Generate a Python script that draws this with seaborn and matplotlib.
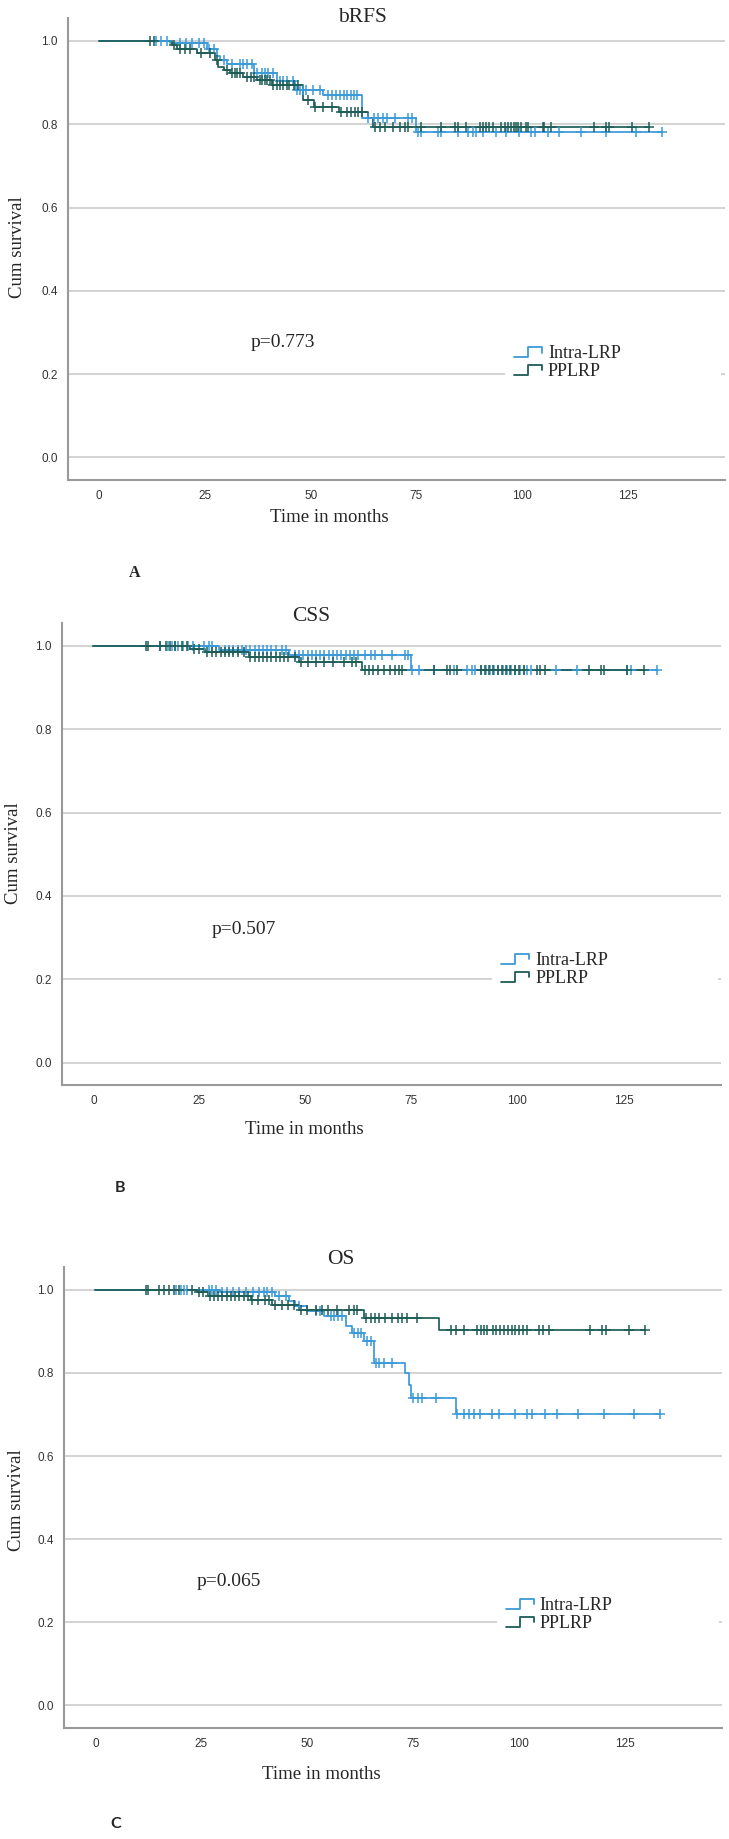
import numpy as np
import pandas as pd
import seaborn as sns
import matplotlib.pyplot as plt
from matplotlib.lines import Line2D
from matplotlib.legend_handler import HandlerBase


# -----------------------------
# DATA
# -----------------------------
# step times (months) and survival after each step, plus censoring times
brfs_intra_t = [0, 16.8, 25.5, 27.8, 28.6, 30.2, 36.5, 42.0, 46.3, 53.0, 62.1, 75.0]
brfs_intra_s = [1.0, 0.994, 0.980, 0.965, 0.955, 0.945, 0.922, 0.905, 0.882, 0.870, 0.814, 0.782]
brfs_intra_c = [13.5, 14.5, 16.0, 19.2, 20.5, 22.0, 23.5, 24.7, 25.9, 27.1, 29.5, 31.5, 33.3,
                34.0, 35.0, 36.1, 37.3, 38.5, 39.3, 40.0, 41.2, 42.8, 43.5, 44.5, 45.9, 46.8,
                47.5, 48.2, 49.0, 50.5, 52.2, 54.0, 55.0, 56.0, 57.0, 57.8, 58.5, 59.5, 60.2,
                60.9, 63.6, 65.0, 66.0, 67.0, 68.0, 70.0, 73.0, 74.0, 75.4, 76.2, 80.1, 80.9,
                84.9, 87.2, 88.4, 89.2, 90.8, 93.9, 96.3, 99.4, 102.2, 103.0, 106.1, 108.8,
                114.0, 119.9, 127.0, 133.1]

brfs_pplrp_t = [0, 17.2, 18.5, 23.2, 27.5, 28.0, 29.5, 31.0, 34.1, 37.3, 40.8, 48.3, 50.7,
                56.6, 63.6, 64.8]
brfs_pplrp_s = [1.0, 0.990, 0.980, 0.970, 0.954, 0.938, 0.930, 0.922, 0.914, 0.906, 0.894,
                0.858, 0.842, 0.830, 0.814, 0.794]
brfs_pplrp_c = [12.1, 13.0, 17.8, 19.0, 20.4, 21.5, 24.0, 26.3, 27.8, 30.2, 31.4, 32.0, 32.6,
                33.3, 35.0, 35.8, 36.5, 38.0, 38.6, 39.2, 39.8, 40.4, 41.2, 42.0, 42.8, 43.5,
                44.3, 45.0, 46.0, 47.0, 49.3, 51.0, 53.0, 55.0, 57.3, 58.5, 59.5, 60.5, 61.3,
                62.1, 65.2, 66.4, 67.5, 69.5, 71.1, 72.3, 73.1, 76.2, 80.9, 84.1, 84.9, 86.8,
                90.0, 90.8, 91.5, 92.3, 93.1, 95.1, 95.9, 96.6, 97.4, 98.2, 98.6, 99.0, 99.8,
                100.9, 101.3, 104.9, 105.3, 106.8, 117.1, 119.9, 120.6, 126.1, 130.1]

css_intra_t = [0, 29.6, 46.1, 74.9]
css_intra_s = [1.0, 0.990, 0.978, 0.942]
css_intra_c = [15.8, 17.5, 18.5, 19.3, 20.0, 21.2, 22.4, 23.6, 26.0, 27.2, 28.0, 31.0, 32.0,
               33.0, 34.0, 35.0, 36.0, 37.0, 38.0, 39.0, 40.0, 41.0, 42.0, 43.0, 44.5, 45.5,
               47.5, 48.5, 49.5, 50.5, 51.5, 52.5, 53.5, 54.5, 55.5, 56.5, 57.5, 58.5, 59.5,
               60.5, 61.5, 62.5, 64.0, 65.5, 66.5, 68.0, 70.5, 73.6, 74.3, 75.2, 76.7, 80.3,
               85.0, 88.1, 89.3, 90.1, 91.3, 92.5, 93.5, 94.5, 95.5, 96.5, 97.5, 98.5, 99.5,
               100.5, 101.5, 102.3, 103.1, 109.0, 114.1, 125.9, 126.7, 132.9]

css_pplrp_t = [0, 22.9, 26.4, 36.6, 48.4, 63.4]
css_pplrp_s = [1.0, 0.993, 0.985, 0.974, 0.962, 0.942]
css_pplrp_c = [12.3, 12.8, 15.8, 17.2, 18.1, 19.3, 20.9, 22.1, 23.7, 24.8, 26.8, 28.0, 29.0,
               30.0, 31.0, 32.0, 33.0, 34.0, 35.5, 37.0, 38.0, 39.0, 40.0, 41.0, 42.0, 43.0,
               44.0, 45.0, 46.0, 47.5, 49.0, 50.5, 52.5, 54.5, 56.5, 59.0, 61.0, 62.0, 64.0,
               65.0, 66.0, 67.0, 68.5, 70.0, 71.2, 72.0, 72.8, 80.3, 83.4, 84.2, 85.8, 91.3,
               92.3, 93.3, 94.3, 95.3, 96.3, 97.3, 98.3, 99.3, 100.3, 101.5, 104.6, 105.4,
               106.6, 116.8, 119.6, 120.4, 125.9, 129.8]

os_intra_t = [0, 29.5, 42.5, 45.7, 47.2, 50.0, 54.0, 59.1, 60.7, 63.4, 65.8, 73.2, 74.0,
              74.5, 85.2]
os_intra_s = [1.0, 0.994, 0.984, 0.972, 0.960, 0.948, 0.936, 0.912, 0.896, 0.876, 0.824,
              0.800, 0.770, 0.740, 0.702]
os_intra_c = [19.0, 20.2, 21.0, 21.7, 26.9, 27.6, 28.4, 30.0, 31.0, 32.4, 33.9, 35.5, 37.1,
              38.7, 39.8, 40.6, 41.8, 43.4, 45.0, 48.0, 52.0, 53.0, 55.6, 56.4, 57.2, 58.3,
              61.1, 61.9, 62.7, 64.2, 65.0, 66.2, 67.0, 68.2, 70.1, 75.0, 76.1, 77.2, 80.5,
              85.5, 87.1, 88.2, 89.3, 90.9, 93.7, 95.3, 99.2, 101.9, 103.0, 106.3, 109.1,
              114.0, 120.1, 127.2, 133.3]

os_pplrp_t = [0, 24.1, 26.5, 36.7, 41.8, 48.1, 63.5, 81.2]
os_pplrp_s = [1.0, 0.994, 0.984, 0.976, 0.964, 0.952, 0.932, 0.902]
os_pplrp_c = [11.9, 12.5, 15.0, 16.2, 17.4, 18.6, 19.8, 22.9, 24.5, 25.5, 27.0, 28.0, 29.0,
              30.0, 31.0, 32.0, 33.0, 34.0, 35.0, 36.0, 37.0, 38.5, 40.0, 41.0, 42.5, 44.0,
              45.5, 47.0, 48.5, 50.0, 52.0, 53.5, 55.0, 57.0, 59.9, 61.0, 61.8, 64.0, 65.0,
              66.0, 67.0, 68.5, 70.0, 71.5, 72.5, 73.5, 76.0, 83.9, 85.1, 87.1, 90.2, 91.0,
              91.8, 92.6, 93.8, 94.7, 95.6, 96.5, 97.4, 98.3, 99.2, 100.1, 101.0, 102.0,
              104.8, 105.6, 107.1, 116.9, 119.7, 120.5, 126.0, 129.9]

groups = ["Intra-LRP", "PPLRP"]
titles = ["bRFS", "CSS", "OS"]
p_texts = ["p=0.773", "p=0.507", "p=0.065"]
panel_letters = ["A", "B", "C"]
x_ticks = [0, 25, 50, 75, 100, 125]
y_ticks = [0.0, 0.2, 0.4, 0.6, 0.8, 1.0]

BLUE = "#3b9ad9"
GREEN = "#1e5d57"


# -----------------------------
# HELPERS
# -----------------------------
def km_frame(t, s, cens):
    end = max(max(cens), t[-1])
    return pd.DataFrame({"time": list(t) + [end], "surv": list(s) + [s[-1]]})


def cens_frame(t, s, cens):
    idx = np.searchsorted(t, cens, side="right") - 1
    return pd.DataFrame({"time": cens, "surv": np.asarray(s)[idx]})


class StepHandler(HandlerBase):
    # SPSS style step glyph for the legend
    def create_artists(self, legend, orig_handle, xdescent, ydescent,
                       width, height, fontsize, trans):
        xs = -xdescent + width * np.array([0.0, 0.5, 0.5, 1.0, 1.0])
        ys = -ydescent + height * np.array([0.1, 0.1, 0.85, 0.85, 0.45])
        ln = Line2D(xs, ys, color=orig_handle.get_color(), lw=1.3)
        ln.set_transform(trans)
        return [ln]


# -----------------------------
# LAYOUT
# -----------------------------
sns.set_style("white")
plt.rcParams["font.family"] = ["Liberation Serif", "DejaVu Serif"]

fig = plt.figure(figsize=(7.29, 18.39), dpi=100)

panels = [
    dict(rect=[0.0926, 0.7390, 0.9019, 0.2512],
         curves=[(brfs_intra_t, brfs_intra_s, brfs_intra_c),
                 (brfs_pplrp_t, brfs_pplrp_s, brfs_pplrp_c)],
         title_xy=(0.448, 1.002), ylab_xy=(-0.0757, 0.504), xlab_xy=(0.398, -0.082),
         p_xy=(35.9, 0.275), leg=(0.6654, 0.254, 0.3285), letter_xy=(0.185, 0.6884),
         letter_font="Liberation Serif"),
    dict(rect=[0.0844, 0.4100, 0.9047, 0.2512],
         curves=[(css_intra_t, css_intra_s, css_intra_c),
                 (css_pplrp_t, css_pplrp_s, css_pplrp_c)],
         title_xy=(0.379, 1.015), ylab_xy=(-0.0735, 0.502), xlab_xy=(0.368, -0.097),
         p_xy=(28.0, 0.319), leg=(0.6528, 0.250, 0.3427), letter_xy=(0.1646, 0.354),
         letter_font="Lato"),
    dict(rect=[0.0874, 0.0604, 0.9030, 0.2507],
         curves=[(os_intra_t, os_intra_s, os_intra_c),
                 (os_pplrp_t, os_pplrp_s, os_pplrp_c)],
         title_xy=(0.421, 1.015), ylab_xy=(-0.072, 0.495), xlab_xy=(0.391, -0.101),
         p_xy=(23.9, 0.298), leg=(0.658, 0.246, 0.337), letter_xy=(0.159, 0.008),
         letter_font="Lato"),
]

for i, cfg in enumerate(panels):
    ax = fig.add_axes(cfg["rect"])

    # curves + censor marks
    for (t, s, c), color, name in zip(cfg["curves"], [BLUE, GREEN], groups):
        sns.lineplot(data=km_frame(t, s, c), x="time", y="surv", drawstyle="steps-post",
                     color=color, lw=1.25, estimator=None, sort=False, ax=ax)
        sns.scatterplot(data=cens_frame(t, s, c), x="time", y="surv", marker="+", s=48,
                        color=color, linewidth=1.1, ax=ax, legend=False, zorder=3)

    ax.set_xlim(-7.5, 148)
    ax.set_ylim(-0.054, 1.055)
    ax.set_xticks(x_ticks)
    ax.set_yticks(y_ticks)
    ax.set_yticklabels([f"{v:.1f}" for v in y_ticks])
    ax.grid(axis="y", color="#cccccc", lw=1.2)
    ax.grid(axis="x", visible=False)
    ax.set_axisbelow(True)

    for side in ["top", "right"]:
        ax.spines[side].set_visible(False)
    for side in ["left", "bottom"]:
        ax.spines[side].set_color("#999999")
        ax.spines[side].set_linewidth(1.5)

    ax.tick_params(axis="y", length=6, width=1.2, color="#cccccc", pad=1,
                   labelsize=8.5, labelcolor="#333333")
    ax.tick_params(axis="x", length=0, pad=7.5, labelsize=8.5, labelcolor="#333333")
    for lab in ax.get_xticklabels() + ax.get_yticklabels():
        lab.set_fontfamily("Liberation Sans")

    # text
    ax.set_title(titles[i], fontsize=15.5, x=cfg["title_xy"][0], y=cfg["title_xy"][1],
                 va="center", pad=0)
    ax.set_ylabel("Cum survival", fontsize=13.5, va="center")
    ax.yaxis.set_label_coords(*cfg["ylab_xy"])
    ax.set_xlabel("Time in months", fontsize=13.5, va="center")
    ax.xaxis.set_label_coords(*cfg["xlab_xy"])
    ax.text(cfg["p_xy"][0], cfg["p_xy"][1], p_texts[i], fontsize=14, va="center")

    # legend
    x0, yc, w = cfg["leg"]
    handles = [Line2D([], [], color=BLUE), Line2D([], [], color=GREEN)]
    leg = ax.legend(handles, groups, loc="center", mode="expand",
                    bbox_to_anchor=(x0, yc - 0.05, w, 0.1), frameon=True,
                    fontsize=13, borderpad=0.5, handlelength=1.55, handletextpad=0.33,
                    labelspacing=0.05, borderaxespad=0,
                    handler_map={Line2D: StepHandler()})
    leg.get_frame().set_facecolor("white")
    leg.get_frame().set_edgecolor("none")
    leg.get_frame().set_alpha(1.0)

    fig.text(cfg["letter_xy"][0], cfg["letter_xy"][1], panel_letters[i], fontsize=11.5,
             fontweight="bold", family=cfg["letter_font"], ha="center", va="center")

fig.savefig("out.png", dpi=100)
